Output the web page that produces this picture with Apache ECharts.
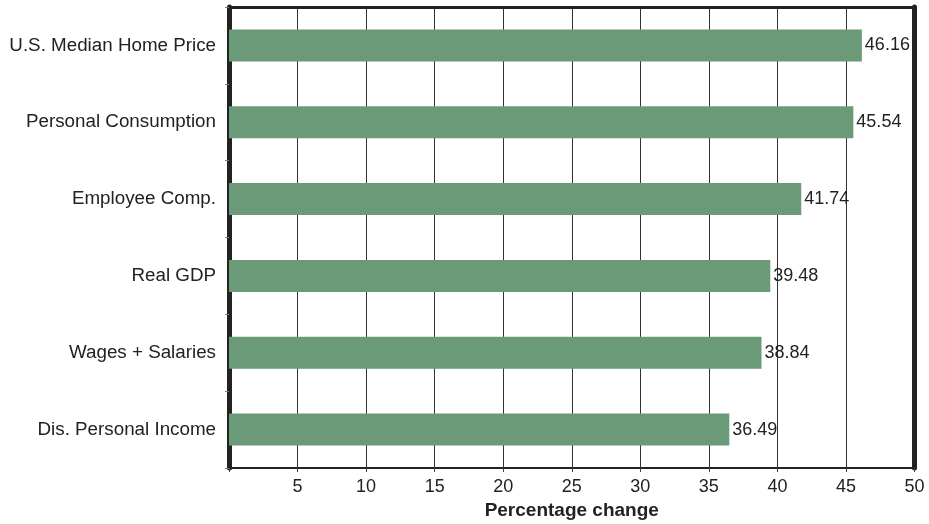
<!DOCTYPE html>
<html>
<head>
<meta charset="utf-8">
<script src="https://cdn.jsdelivr.net/npm/echarts@6/dist/echarts.min.js"></script>
<style>
  html, body { margin: 0; padding: 0; background: #fff; }
  #chart { width: 929px; height: 524px; }
</style>
</head>
<body>
<div id="chart"></div>
<script>
// Categories listed bottom-to-top (category axis runs upward)
const categories = [
  'Dis. Personal Income',
  'Wages + Salaries',
  'Real GDP',
  'Employee Comp.',
  'Personal Consumption',
  'U.S. Median Home Price'
];
const values = [36.49, 38.84, 39.48, 41.74, 45.54, 46.16];
const xTicks = [0, 5, 10, 15, 20, 25, 30, 35, 40, 45, 50];

const font = 'Liberation Sans, Arial, Helvetica, sans-serif';
const textColor = '#222';
const chart = echarts.init(document.getElementById('chart'), null, { renderer: 'canvas' });

chart.setOption({
  animation: false,
  grid: {
    left: 229, right: 14.5, top: 7, bottom: 56,
    containLabel: false,
    outerBoundsMode: 'none'
  },
  xAxis: [
    {
      type: 'value',
      position: 'bottom',
      min: xTicks[0],
      max: xTicks[xTicks.length - 1],
      interval: 5,
      name: 'Percentage change',
      nameLocation: 'middle',
      nameGap: 33,
      nameTextStyle: { fontFamily: font, fontSize: 19, fontWeight: 'bold', color: textColor },
      axisLine: { show: true, onZero: false, lineStyle: { color: '#222', width: 2 } },
      axisTick: { show: true, length: 4, lineStyle: { color: '#444', width: 1 } },
      axisLabel: {
        fontFamily: font, fontSize: 18, color: textColor, margin: 10,
        formatter: v => (v === 0 ? '' : String(v))
      },
      splitLine: { show: true, lineStyle: { color: '#333', width: 1 } }
    },
    {
      type: 'value',
      position: 'top',
      min: 0, max: 50, interval: 5,
      axisLine: { show: true, onZero: false, lineStyle: { color: '#222', width: 3 } },
      axisTick: { show: false },
      axisLabel: { show: false },
      splitLine: { show: false }
    }
  ],
  yAxis: [
    {
      type: 'category',
      position: 'left',
      data: categories,
      axisLine: { show: true, onZero: false, lineStyle: { color: '#222', width: 5 } },
      axisTick: { show: true, length: 4, lineStyle: { color: '#777', width: 1 } },
      axisLabel: { fontFamily: font, fontSize: 18.8, color: textColor, margin: 13 },
      splitLine: { show: false }
    },
    {
      type: 'category',
      position: 'right',
      data: categories,
      axisLine: { show: true, onZero: false, lineStyle: { color: '#222', width: 5 } },
      axisTick: { show: false },
      axisLabel: { show: false },
      splitLine: { show: false }
    }
  ],
  series: [
    {
      type: 'bar',
      data: values,
      barWidth: 32,
      itemStyle: { color: '#6a9a78' },
      label: {
        show: true,
        position: 'right',
        distance: 3,
        fontFamily: font,
        fontSize: 18,
        color: textColor,
        formatter: p => p.value.toFixed(2)
      }
    }
  ]
});
</script>
</body>
</html>
